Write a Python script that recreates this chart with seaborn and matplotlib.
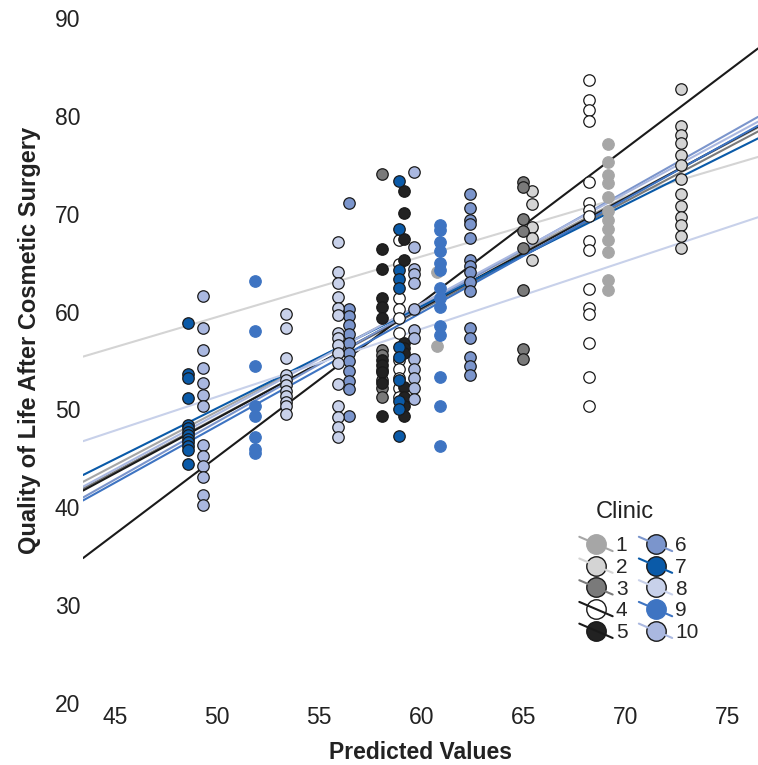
import matplotlib
matplotlib.use("Agg")
import matplotlib.pyplot as plt
import numpy as np
import pandas as pd
import seaborn as sns
from matplotlib.lines import Line2D
from matplotlib.legend_handler import HandlerBase

# predicted value columns per clinic (two per clinic)
clinic_ids = [1, 2, 3, 4, 5, 6, 7, 8, 9, 10]
pred_pairs = [(60.77, 69.15), (65.41, 72.75), (58.07, 65.01), (58.89, 68.20), (58.07, 59.18),
              (56.47, 62.40), (48.56, 58.89), (53.38, 55.92), (51.86, 60.93), (49.33, 59.66)]

# quality of life after surgery, low / high predicted column
qol_1a = [64.0, 56.5]
qol_1b = [77.1, 75.3, 74.0, 73.1, 71.7, 70.3, 69.4, 68.4, 67.3, 66.1, 63.2, 62.2]
qol_2a = [72.3, 71.0, 68.6, 67.5, 65.3]
qol_2b = [82.7, 79.0, 78.0, 77.2, 76.0, 75.0, 73.5, 72.0, 70.8, 69.7, 68.8, 67.7, 66.5]
qol_3a = [74.1, 56.1, 55.6, 54.0, 53.0, 52.2, 51.3]
qol_3b = [73.2, 72.7, 69.5, 68.2, 66.5, 62.2, 56.2, 55.2]
qol_4a = [67.3, 64.9, 61.4, 60.3, 59.3, 57.8, 55.1, 54.1, 53.2, 52.2, 51.3]
qol_4b = [83.7, 81.6, 80.6, 79.5, 73.2, 71.1, 70.4, 69.8, 67.2, 66.3, 62.3, 60.4, 59.8, 56.8, 53.3, 50.3]
qol_5a = [66.4, 64.3, 61.4, 60.5, 59.3, 55.1, 54.5, 53.8, 52.7, 49.3]
qol_5b = [72.3, 70.1, 67.4, 65.3, 56.8, 56.3, 55.8, 52.3, 51.3, 50.4, 49.3]
qol_6a = [71.1, 60.3, 59.5, 58.6, 57.7, 56.8, 55.8, 54.9, 53.9, 52.9, 52.1, 49.3]
qol_6b = [72.0, 70.6, 69.4, 68.9, 67.5, 65.3, 64.7, 64.0, 63.0, 62.1, 58.3, 57.3, 55.4, 54.4, 53.5]
qol_7a = [58.8, 53.6, 53.2, 51.2, 48.4, 48.1, 47.7, 47.4, 47.0, 46.7, 46.3, 45.9, 44.4]
qol_7b = [73.3, 68.4, 64.2, 63.3, 62.4, 56.4, 55.4, 53.0, 50.9, 50.0, 47.3]
qol_8a = [59.8, 58.3, 55.3, 53.5, 53.0, 52.5, 51.9, 51.4, 50.8, 50.3, 49.5]
qol_8b = [67.1, 64.0, 62.9, 61.5, 60.4, 59.7, 57.8, 57.3, 56.6, 55.8, 54.7, 52.6, 50.4, 49.2, 48.2, 47.2]
qol_9a = [63.1, 58.0, 54.4, 50.3, 49.3, 47.2, 46.0, 45.5]
qol_9b = [68.8, 68.3, 67.1, 66.2, 65.0, 64.2, 62.4, 61.4, 60.5, 58.5, 57.6, 53.3, 50.3, 46.3]
qol_10a = [61.6, 58.3, 56.1, 54.2, 52.7, 51.5, 50.4, 46.4, 45.2, 44.2, 43.1, 41.3, 40.2]
qol_10b = [74.3, 66.6, 64.4, 63.8, 62.9, 60.3, 58.1, 57.3, 55.2, 54.1, 53.2, 52.2, 51.1]

# per-clinic fitted lines (intercept, slope)
line_intercept = [-4.94, 28.6, -6.03, -7.15, -33.6, -10.09, -1.88, 16.7, -9.60, -6.88]
line_slope = [1.0946, 0.617, 1.1037, 1.1249, 1.575, 1.1763, 1.0402, 0.692, 1.1581, 1.1279]

fill_colors = ["#a6a6a6", "#d4d4d4", "#7a7a7a", "#ffffff", "#222222",
               "#7b95cc", "#0a5aa8", "#c8d1ea", "#3e74c2", "#aab8e0"]
line_colors = ["#a6a6a6", "#d4d4d4", "#7a7a7a", "#1a1a1a", "#1a1a1a",
               "#7b95cc", "#0a5aa8", "#c8d1ea", "#3e74c2", "#aab8e0"]
edge_colors = ["#a6a6a6", "#1a1a1a", "#1a1a1a", "#1a1a1a", "#1a1a1a",
               "#1a1a1a", "#1a1a1a", "#1a1a1a", "#3e74c2", "#1a1a1a"]

qol_lists = [(qol_1a, qol_1b), (qol_2a, qol_2b), (qol_3a, qol_3b), (qol_4a, qol_4b), (qol_5a, qol_5b),
             (qol_6a, qol_6b), (qol_7a, qol_7b), (qol_8a, qol_8b), (qol_9a, qol_9b), (qol_10a, qol_10b)]

rows = []
for cid, (xa, xb), (ya, yb) in zip(clinic_ids, pred_pairs, qol_lists):
    rows += [(cid, xa, v) for v in ya]
    rows += [(cid, xb, v) for v in yb]
df = pd.DataFrame(rows, columns=["clinic", "predicted", "qol"])

sns.set_theme(style="white")
plt.rcParams["font.family"] = ["Liberation Sans", "DejaVu Sans"]

fig = plt.figure(figsize=(7.58, 7.65), dpi=100)
ax = fig.add_axes([83 / 758, 1 - 703 / 765, 675 / 758, 685 / 765])
XMIN, XMAX = 43.43, 76.5

for i, cid in enumerate(clinic_ids):
    xs = np.array([XMIN, XMAX])
    ax.plot(xs, line_intercept[i] + line_slope[i] * xs, color=line_colors[i], lw=1.5, zorder=1)

for i, cid in enumerate(clinic_ids):
    sub = df[df["clinic"] == cid]
    sns.scatterplot(data=sub, x="predicted", y="qol", ax=ax, color=fill_colors[i],
                    edgecolor=edge_colors[i], linewidth=0.9, s=68, zorder=2, legend=False)

ax.set_xlim(XMIN, XMAX)
ax.set_ylim(20, 90)
ax.set_xticks([45, 50, 55, 60, 65, 70, 75])
ax.set_yticks([20, 30, 40, 50, 60, 70, 80, 90])
for s in ax.spines.values():
    s.set_visible(False)
ax.tick_params(length=0, labelsize=16.5, labelcolor="#222222", pad=2)
ax.set_xlabel("Predicted Values", fontsize=16.5, fontweight="bold", color="#222222")
ax.set_ylabel("Quality of Life After Cosmetic Surgery", fontsize=17, fontweight="bold",
              color="#222222")
ax.xaxis.set_label_coords(0.5, -0.055)
ax.yaxis.set_label_coords(-0.062, 0.53)


class ClinicKey(HandlerBase):
    def create_artists(self, legend, orig, xdescent, ydescent, width, height, fontsize, trans):
        cx = width / 2 - xdescent
        cy = height / 2 - ydescent
        dot = Line2D([cx], [cy], marker="o", markersize=14, linestyle="none",
                     markerfacecolor=orig.get_markerfacecolor(),
                     markeredgecolor=orig.get_markeredgecolor(), markeredgewidth=1.0,
                     transform=trans)
        seg = Line2D([cx - width * 0.5, cx + width * 0.5], [cy + height * 0.45, cy - height * 0.45],
                     color=orig.get_color(), lw=1.5, transform=trans)
        return [dot, seg]


handles = [Line2D([], [], color=line_colors[i], marker="o", markerfacecolor=fill_colors[i],
                  markeredgecolor=edge_colors[i]) for i in range(10)]
fig.legend(handles, [str(c) for c in clinic_ids], ncol=2,
           loc="center", bbox_to_anchor=(639 / 758, 1 - 589 / 765), frameon=False,
           fontsize=15, handlelength=1.6, handleheight=0.8,
           handletextpad=0.15, columnspacing=0.55, labelspacing=0.12, borderpad=0,
           handler_map={Line2D: ClinicKey()})
fig.text(625 / 758, 1 - 512 / 765, "Clinic", fontsize=17, color="#222222", ha="center", va="center")

fig.savefig("out.png", dpi=100, facecolor="white")
